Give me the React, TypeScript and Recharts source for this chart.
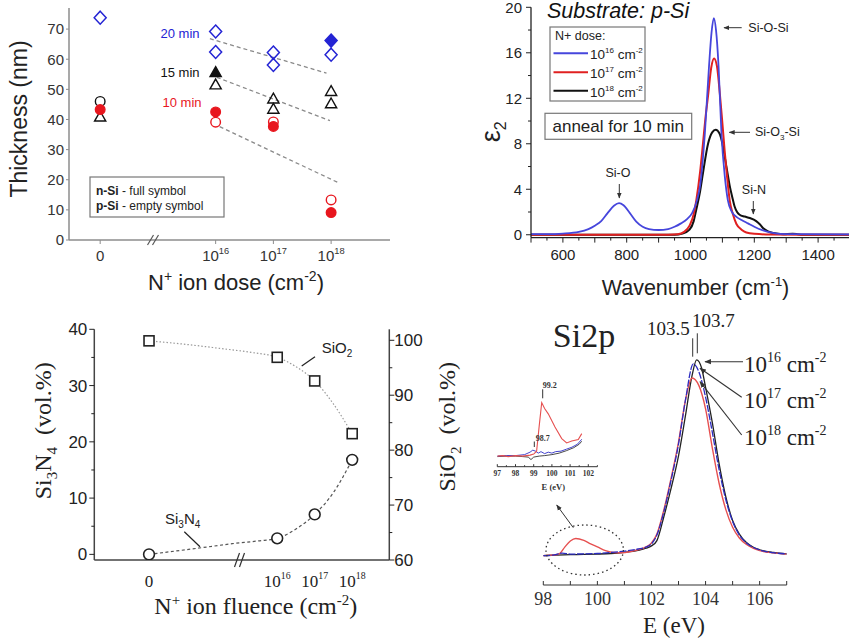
import React from "react";
import { ComposedChart, Line, Scatter, XAxis, YAxis } from "recharts";

const SANS = "'Liberation Sans', Arial, Helvetica, sans-serif";
const SERIF = "'Liberation Serif', 'Times New Roman', Times, serif";

// ---------- top left: oxide thickness vs N+ dose ----------
const doseExp = ["0", "16", "17", "18"];
const dosePos = [14, 16, 17, 18]; // place on the broken axis
const thickTicks = [0, 10, 20, 30, 40, 50, 60, 70];

// [dose index, thickness nm]
const blueOpen = [[0, 73.8], [1, 69.2], [1, 62.4], [2, 62.2], [2, 58.1], [3, 61.5]];
const blueFull = [[3, 66.2]];
const blackOpenCircle = [[0, 46]];
const blackOpenTri = [[0, 40.8], [1, 51.5], [2, 46.8], [2, 43.4], [3, 49.3], [3, 45.2]];
const blackFullTri = [[1, 55.6]];
const redFull = [[0, 43.3], [1, 42.5], [2, 37.7], [3, 9.1]];
const redOpen = [[1, 39.1], [2, 39.2], [3, 13.3]];

const trend20 = [[15.9, 66.8], [17.92, 55.4]];
const trend15 = [[16.02, 54], [17.98, 39.6]];
const trend10 = [[16.07, 37.6], [18.15, 18.8]];

// ---------- top right: eps2 spectra ----------
const wnTicks = [500, 550, 600, 650, 700, 750, 800, 850, 900, 950, 1000, 1050, 1100, 1150, 1200, 1250, 1300, 1350, 1400, 1450, 1500];
const epsTicks = [0, 2, 4, 6, 8, 10, 12, 14, 16, 18, 20];

const eps16 = [[500, 0.05], [550, 0.05], [600, 0.1], [650, 0.25], [680, 0.5], [700, 0.8], [720, 1.2], [740, 1.9], [760, 2.55], [776, 2.78], [790, 2.6], [810, 1.9], [830, 1.15], [850, 0.7], [870, 0.5], [900, 0.42], [930, 0.5], [950, 0.7], [970, 1.0], [990, 1.4], [1005, 1.9], [1020, 3.0], [1030, 4.3], [1045, 8.9], [1058, 14.8], [1066, 17.8], [1073, 19.05], [1080, 18.0], [1088, 14.8], [1097, 8.9], [1108, 5.0], [1117, 3.05], [1130, 2.0], [1145, 1.55], [1160, 1.3], [1180, 1.0], [1200, 0.7], [1225, 0.4], [1250, 0.2], [1280, 0.08], [1320, 0.05], [1500, 0.03]];
const eps17 = [[500, 0], [900, 0], [960, 0.05], [980, 0.25], [997, 0.8], [1010, 1.8], [1018, 3.0], [1030, 5.5], [1039, 8.0], [1047, 10.3], [1055, 12.2], [1065, 14.7], [1074, 15.5], [1083, 14.8], [1092, 12.4], [1100, 9.8], [1107, 7.4], [1115, 5.0], [1123, 3.0], [1133, 1.8], [1144, 0.95], [1160, 0.45], [1175, 0.2], [1200, 0.08], [1250, 0.02], [1500, 0]];
const eps18 = [[500, 0], [950, 0], [975, 0.1], [997, 0.45], [1010, 1.2], [1018, 2.2], [1030, 3.8], [1039, 5.4], [1055, 8.0], [1068, 9.0], [1079, 9.23], [1091, 8.9], [1100, 8.0], [1107, 6.9], [1115, 5.6], [1123, 4.3], [1131, 3.3], [1138, 2.5], [1146, 2.0], [1154, 1.76], [1170, 1.6], [1186, 1.47], [1206, 1.2], [1218, 0.9], [1227, 0.6], [1243, 0.3], [1259, 0.15], [1290, 0.05], [1320, 0.08], [1335, 0.05], [1350, 0], [1500, 0]];

// ---------- bottom left: phase volume fractions ----------
const fluencePos = [12.58, 16, 17, 18];
const si3n4 = [0, 2.85, 7.1, 16.8];
const sio2 = [99.9, 96.9, 92.6, 83.0];
const si3n4Fit = [[12.58, 0], [13.3, 0.6], [14.0, 1.2], [14.8, 1.9], [15.5, 2.4], [16, 2.85], [16.5, 4.5], [17, 7.1], [17.5, 11], [18, 16.8]];
const sio2Fit = [[12.58, 99.9], [13.5, 99.3], [14.5, 98.5], [15.3, 97.8], [16, 96.9], [16.5, 95.2], [17, 92.6], [17.5, 88.4], [18, 83.0]];
const leftTicks = [0, 5, 10, 15, 20, 25, 30, 35, 40];
const rightTicks = [60, 65, 70, 75, 80, 85, 90, 95, 100];

// ---------- bottom right: XPS Si2p ----------
const eTicks = [98, 99, 100, 101, 102, 103, 104, 105, 106, 107];
const xps16 = [[98.0, 0], [98.5, 0.3], [99.0, 0.5], [99.5, 0.6], [100.0, 0.8], [100.5, 1.1], [101.0, 1.7], [101.5, 2.7], [101.8, 3.8], [102.0, 5], [102.2, 7.7], [102.45, 19.5], [102.7, 33], [103.0, 51], [103.25, 71], [103.5, 92], [103.67, 100], [103.85, 96], [104.0, 86], [104.25, 68], [104.5, 47], [104.75, 30], [105.0, 18], [105.25, 11], [105.5, 6.8], [105.75, 4.4], [106.0, 3], [106.5, 1.6], [107.0, 0.9]];
const xps17 = [[98.0, 0], [98.4, 0.4], [98.7, 1.3], [99.0, 0.8], [99.5, 0.9], [100.0, 1.1], [100.5, 1.6], [101.0, 2.3], [101.5, 3.4], [101.8, 4.4], [102.0, 6], [102.2, 10.5], [102.45, 22], [102.7, 37], [103.0, 57], [103.25, 79], [103.55, 98], [103.75, 94], [104.0, 81], [104.25, 63], [104.5, 44], [104.75, 28.5], [105.0, 17.5], [105.25, 10.5], [105.5, 6.6], [105.75, 4.3], [106.0, 2.9], [106.5, 1.5], [107.0, 0.9]];
const xps18 = [[98.0, 0], [98.4, 0.3], [98.6, 1], [98.8, 4.5], [99.0, 7.5], [99.2, 8.8], [99.5, 7.8], [99.75, 6], [100.0, 4.5], [100.3, 2.6], [100.6, 1.6], [100.9, 1.5], [101.2, 2], [101.5, 3], [101.8, 4.5], [102.0, 6.5], [102.2, 11], [102.45, 23], [102.7, 38], [103.0, 58], [103.25, 79], [103.5, 90.8], [103.75, 87], [104.0, 75], [104.25, 55], [104.5, 37], [104.75, 23.5], [105.0, 14.5], [105.25, 9], [105.5, 5.8], [105.75, 3.9], [106.0, 2.6], [106.5, 1.4], [107.0, 0.8]];

// inset, zoom of the low energy part
const insetTicks = [97, 97.5, 98, 98.5, 99, 99.5, 100, 100.5, 101, 101.5, 102, 102.5];
const ins16 = [[97, -0.5], [97.5, 0], [98, 0], [98.4, -0.5], [98.7, -1], [98.85, -3.5], [99.0, -1], [99.3, 0], [99.6, 0.5], [100, 1.5], [100.4, 3], [100.8, 5.5], [101.2, 8.5], [101.5, 12], [101.64, 15]];
const ins17 = [[97, 0], [97.5, 0.5], [98, 0.5], [98.5, 1.5], [98.8, 4], [98.95, 6], [99.1, 5], [99.25, 3], [99.4, 4.5], [99.6, 2.5], [99.8, 4], [100.0, 3], [100.2, 4.5], [100.5, 5], [100.8, 7], [101.1, 9], [101.4, 12], [101.64, 17]];
const ins18 = [[97.0, 0], [97.3, 0.5], [97.6, -0.5], [98.0, 0.5], [98.4, 0], [98.8, 1], [99.0, 2], [99.16, 5], [99.3, 30], [99.44, 54], [99.6, 48], [99.8, 42.7], [100.17, 29.3], [100.54, 17.7], [100.81, 13.3], [101.09, 15.3], [101.45, 16.7], [101.64, 22.7]];

const xy = (a: number[][]) => a.map(([x, y]) => ({ x, y }));
const byDose = (a: number[][]) => a.map(([d, y]) => ({ x: dosePos[d], y }));

const BLUE = "#2424d4";
const RED = "#e8161e";
const BLK = "#111";

const supLabel = (exp: string, size: number, ratio = 0.62) => (
  <>
    10
    <tspan dy={-size * 0.45} fontSize={size * ratio}>
      {exp}
    </tspan>
  </>
);

type TickOpt = {
  len: number;
  minorLen?: number;
  inward?: boolean;
  gap: number;
  size: number;
  font: string;
  color?: string;
  stroke?: string;
  weight?: string | number;
  major?: (v: number) => boolean;
  label: (v: number) => React.ReactNode;
};

function bottomTick(o: TickOpt) {
  return (p: any) => {
    const v = p.payload.value;
    const isMajor = o.major ? o.major(v) : true;
    const len = isMajor ? o.len : o.minorLen ?? 0;
    const s = o.inward ? -1 : 1;
    const lbl = isMajor ? o.label(v) : null;
    return (
      <g>
        {len > 0 && <line x1={p.x} y1={p.y} x2={p.x} y2={p.y + s * len} stroke={o.stroke ?? "#222"} strokeWidth={1} />}
        {lbl !== null && (
          <text x={p.x} y={p.y + o.gap} textAnchor="middle" fontFamily={o.font} fontSize={o.size} fontWeight={o.weight} fill={o.color ?? "#222"}>
            {lbl}
          </text>
        )}
      </g>
    );
  };
}

function sideTick(side: "left" | "right", o: TickOpt) {
  return (p: any) => {
    const v = p.payload.value;
    const isMajor = o.major ? o.major(v) : true;
    const len = isMajor ? o.len : o.minorLen ?? 0;
    const s = (side === "left" ? -1 : 1) * (o.inward ? -1 : 1);
    const d = side === "left" ? -1 : 1;
    const lbl = isMajor ? o.label(v) : null;
    return (
      <g>
        {len > 0 && <line x1={p.x} y1={p.y} x2={p.x + s * len} y2={p.y} stroke={o.stroke ?? "#222"} strokeWidth={1} />}
        {lbl !== null && (
          <text x={p.x + d * o.gap} y={p.y + o.size * 0.36} textAnchor={side === "left" ? "end" : "start"} fontFamily={o.font} fontSize={o.size} fill={o.color ?? "#222"}>
            {lbl}
          </text>
        )}
      </g>
    );
  };
}

const diamond = (color: string, full: boolean) => (p: any) => (
  <path d={`M${p.cx},${p.cy - 6.5}L${p.cx + 6},${p.cy}L${p.cx},${p.cy + 6.5}L${p.cx - 6},${p.cy}Z`} fill={full ? color : "none"} stroke={color} strokeWidth={1.5} />
);
const triangle = (color: string, full: boolean) => (p: any) => (
  <path d={`M${p.cx},${p.cy - 5.8}L${p.cx + 5.6},${p.cy + 4}L${p.cx - 5.6},${p.cy + 4}Z`} fill={full ? color : "none"} stroke={color} strokeWidth={1.4} />
);
const circle = (color: string, full: boolean, r = 4.8) => (p: any) => (
  <circle cx={p.cx} cy={p.cy} r={r} fill={full ? color : "none"} stroke={color} strokeWidth={1.4} />
);
const square = (p: any) => <rect x={p.cx - 5} y={p.cy - 5} width={10} height={10} fill="#fff" stroke="#222" strokeWidth={1.6} />;
const ring = (p: any) => <circle cx={p.cx} cy={p.cy} r={5.4} fill="#fff" stroke="#222" strokeWidth={1.6} />;

const frameAxis = (stroke: string, w = 1.5) => ({ stroke, strokeWidth: w });

function ThicknessChart() {
  const grey = "#8c8c8c";
  return (
    <ComposedChart width={420} height={300} margin={{ top: 8, right: 30, bottom: 30, left: 0 }}>
      <XAxis
        type="number"
        dataKey="x"
        domain={[13.46, 19.02]}
        allowDataOverflow
        ticks={dosePos}
        interval={0}
        height={30}
        tickSize={0}
        tickMargin={0}
        tickLine={false}
        axisLine={frameAxis(grey)}
        tick={bottomTick({ len: 4, gap: 21, size: 15, font: SANS, color: "#333", stroke: grey, label: (v) => (v === dosePos[0] ? "0" : supLabel(doseExp[dosePos.indexOf(v)], 15)) })}
      />
      <XAxis xAxisId="top" orientation="top" type="number" domain={[13.46, 19.02]} height={0} tick={false} tickLine={false} axisLine={frameAxis(grey)} />
      <YAxis
        type="number"
        domain={[0, 77]}
        allowDataOverflow
        ticks={thickTicks}
        interval={0}
        width={69}
        tickSize={0}
        tickMargin={0}
        tickLine={false}
        axisLine={frameAxis(grey)}
        tick={sideTick("left", { len: 3, gap: 5, size: 15, font: SANS, color: "#333", stroke: grey, label: (v) => String(v) })}
      />
      <YAxis yAxisId="r" orientation="right" width={0} tick={false} tickLine={false} axisLine={frameAxis(grey)} />
      <Line data={xy(trend20)} dataKey="y" type="linear" stroke="#8a8a8a" strokeWidth={1.3} strokeDasharray="4 3" dot={false} isAnimationActive={false} />
      <Line data={xy(trend15)} dataKey="y" type="linear" stroke="#8a8a8a" strokeWidth={1.3} strokeDasharray="4 3" dot={false} isAnimationActive={false} />
      <Line data={xy(trend10)} dataKey="y" type="linear" stroke="#8a8a8a" strokeWidth={1.3} strokeDasharray="4 3" dot={false} isAnimationActive={false} />
      <Scatter data={byDose(blueOpen)} dataKey="y" shape={diamond(BLUE, false)} isAnimationActive={false} />
      <Scatter data={byDose(blueFull)} dataKey="y" shape={diamond(BLUE, true)} isAnimationActive={false} />
      <Scatter data={byDose(blackOpenCircle)} dataKey="y" shape={circle(BLK, false)} isAnimationActive={false} />
      <Scatter data={byDose(blackOpenTri)} dataKey="y" shape={triangle(BLK, false)} isAnimationActive={false} />
      <Scatter data={byDose(blackFullTri)} dataKey="y" shape={triangle(BLK, true)} isAnimationActive={false} />
      <Scatter data={byDose(redOpen)} dataKey="y" shape={circle(RED, false)} isAnimationActive={false} />
      <Scatter data={byDose(redFull)} dataKey="y" shape={circle(RED, true)} isAnimationActive={false} />
    </ComposedChart>
  );
}

function EpsChart() {
  return (
    <ComposedChart width={440} height={300} margin={{ top: 7.3, right: 10, bottom: 32.4, left: 0 }}>
      <XAxis
        type="number"
        dataKey="x"
        domain={[500, 1500]}
        allowDataOverflow
        ticks={wnTicks}
        interval={0}
        height={30}
        tickSize={0}
        tickMargin={0}
        tickLine={false}
        axisLine={frameAxis("#222", 1.3)}
        tick={bottomTick({ len: 5, minorLen: 3, gap: 22.5, size: 15, font: SANS, major: (v) => v % 100 === 0, label: (v) => (v % 200 === 0 && v >= 600 && v <= 1400 ? String(v) : null) })}
      />
      <XAxis xAxisId="top" orientation="top" type="number" domain={[500, 1500]} height={0} tick={false} tickLine={false} axisLine={frameAxis("#222", 1.3)} />
      <YAxis
        type="number"
        domain={[-0.25, 20]}
        allowDataOverflow
        ticks={epsTicks}
        interval={0}
        width={111}
        tickSize={0}
        tickMargin={0}
        tickLine={false}
        axisLine={frameAxis("#222", 1.3)}
        tick={sideTick("left", { len: 5, minorLen: 3, gap: 9, size: 15, font: SANS, major: (v) => v % 4 === 0, label: (v) => String(v) })}
      />
      <Line data={xy(eps18)} dataKey="y" type="monotone" stroke={BLK} strokeWidth={2} dot={false} isAnimationActive={false} />
      <Line data={xy(eps17)} dataKey="y" type="monotone" stroke="#e02020" strokeWidth={2} dot={false} isAnimationActive={false} />
      <Line data={xy(eps16)} dataKey="y" type="monotone" stroke="#4646dc" strokeWidth={1.8} dot={false} isAnimationActive={false} />
    </ComposedChart>
  );
}

function FractionChart() {
  const fLabel = (v: number) => (v === fluencePos[0] ? "0" : supLabel(String(v), 17, 0.58));
  return (
    <ComposedChart width={450} height={340} margin={{ top: 29.3, right: 0, bottom: 40, left: 0 }}>
      <XAxis
        type="number"
        dataKey="x"
        domain={[11.12, 18.99]}
        allowDataOverflow
        ticks={fluencePos}
        interval={0}
        height={40}
        tickSize={0}
        tickMargin={0}
        tickLine={false}
        axisLine={frameAxis("#444")}
        tick={bottomTick({ len: 0, gap: 26.5, size: 17, font: SERIF, label: fLabel })}
      />
      <XAxis xAxisId="top" orientation="top" type="number" domain={[11.12, 18.99]} height={0} tick={false} tickLine={false} axisLine={frameAxis("#444")} />
      <YAxis
        type="number"
        domain={[-1, 40]}
        allowDataOverflow
        ticks={leftTicks}
        interval={0}
        width={94.3}
        tickSize={0}
        tickMargin={0}
        tickLine={false}
        axisLine={frameAxis("#444")}
        tick={sideTick("left", { len: 5, minorLen: 3, gap: 7, size: 17, font: SANS, major: (v) => v % 10 === 0, label: (v) => String(v) })}
      />
      <YAxis
        yAxisId="r"
        orientation="right"
        type="number"
        domain={[60, 102]}
        allowDataOverflow
        ticks={rightTicks}
        interval={0}
        width={60.7}
        tickSize={0}
        tickMargin={0}
        tickLine={false}
        axisLine={frameAxis("#444")}
        tick={sideTick("right", { len: 5, minorLen: 3, gap: 5, size: 17, font: SANS, major: (v) => v % 10 === 0, label: (v) => String(v) })}
      />
      <Line data={xy(sio2Fit)} yAxisId="r" dataKey="y" type="monotone" stroke="#9a9a9a" strokeWidth={1.2} strokeDasharray="1.5 2" dot={false} isAnimationActive={false} />
      <Line data={xy(si3n4Fit)} dataKey="y" type="monotone" stroke="#555" strokeWidth={1.2} strokeDasharray="3 2.5" dot={false} isAnimationActive={false} />
      <Scatter data={fluencePos.map((x, i) => ({ x, y: sio2[i] }))} yAxisId="r" dataKey="y" shape={square} isAnimationActive={false} />
      <Scatter data={fluencePos.map((x, i) => ({ x, y: si3n4[i] }))} dataKey="y" shape={ring} isAnimationActive={false} />
    </ComposedChart>
  );
}

function XpsChart() {
  return (
    <ComposedChart width={429} height={340} margin={{ top: 40.4, right: 62.3, bottom: 25, left: 123.3 }}>
      <XAxis
        type="number"
        dataKey="x"
        domain={[98, 107]}
        allowDataOverflow
        ticks={eTicks}
        interval={0}
        height={30}
        tickSize={0}
        tickMargin={0}
        tickLine={false}
        axisLine={frameAxis("#333", 1.2)}
        tick={bottomTick({ len: 4, inward: true, gap: 20, size: 18, font: SERIF, color: "#333", stroke: "#333", label: (v) => (v % 2 === 0 ? String(v) : null) })}
      />
      <YAxis hide type="number" domain={[-15, 110]} allowDataOverflow />
      <Line data={xy(xps16)} dataKey="y" type="monotone" stroke="#222" strokeWidth={1.3} dot={false} isAnimationActive={false} />
      <Line data={xy(xps18)} dataKey="y" type="monotone" stroke="#e65050" strokeWidth={1.4} dot={false} isAnimationActive={false} />
      <Line data={xy(xps17)} dataKey="y" type="monotone" stroke="#2c2cc0" strokeWidth={1.3} strokeDasharray="7 1.5" dot={false} isAnimationActive={false} />
    </ComposedChart>
  );
}

function InsetChart() {
  return (
    <ComposedChart width={120} height={115} margin={{ top: 15, right: 12.6, bottom: 10, left: 7.3 }}>
      <XAxis
        type="number"
        dataKey="x"
        domain={[97, 102.5]}
        allowDataOverflow
        ticks={insetTicks}
        interval={0}
        height={18.3}
        tickSize={0}
        tickMargin={0}
        tickLine={false}
        axisLine={frameAxis("#333", 1)}
        tick={bottomTick({ len: 2.5, minorLen: 1.5, inward: true, gap: 9.5, size: 7.5, weight: 700, font: SERIF, color: "#333", stroke: "#333", major: (v) => Number.isInteger(v), label: (v) => String(v) })}
      />
      <YAxis hide type="number" domain={[-10.7, 61.7]} allowDataOverflow />
      <Line data={xy(ins16)} dataKey="y" type="linear" stroke="#333" strokeWidth={0.9} dot={false} isAnimationActive={false} />
      <Line data={xy(ins17)} dataKey="y" type="linear" stroke="#3030c8" strokeWidth={0.9} dot={false} isAnimationActive={false} />
      <Line data={xy(ins18)} dataKey="y" type="linear" stroke="#e65050" strokeWidth={1.1} dot={false} isAnimationActive={false} />
    </ComposedChart>
  );
}

function Overlay() {
  const ah = "url(#ah)";
  return (
    <svg width={849} height={640} style={{ position: "absolute", left: 0, top: 0, pointerEvents: "none" }}>
      <defs>
        <marker id="ah" viewBox="0 0 10 10" refX="9" refY="5" markerWidth="6" markerHeight="6" orient="auto">
          <path d="M0,1 L10,5 L0,9 Z" fill="#333" />
        </marker>
      </defs>

      {/* top left */}
      <text transform="translate(27,119) rotate(-90)" textAnchor="middle" fontFamily={SANS} fontSize={23} fill="#222">
        Thickness (nm)
      </text>
      <text x={236} y={290} textAnchor="middle" fontFamily={SANS} fontSize={22} fill="#222">
        N<tspan dy={-9} fontSize={14}>+</tspan>
        <tspan dy={9}> ion dose (cm</tspan>
        <tspan dy={-9} fontSize={14}>-2</tspan>
        <tspan dy={9}>)</tspan>
      </text>
      <text x={180} y={38} textAnchor="middle" fontFamily={SANS} fontSize={13} fill={BLUE}>20 min</text>
      <text x={180} y={76.5} textAnchor="middle" fontFamily={SANS} fontSize={13} fill={BLK}>15 min</text>
      <text x={182} y={106.5} textAnchor="middle" fontFamily={SANS} fontSize={13} fill={RED}>10 min</text>
      <rect x={90} y={177} width={134} height={40} fill="#fff" stroke="#777" strokeWidth={1.2} />
      <text x={96} y={195} fontFamily={SANS} fontSize={12} fill="#222">
        <tspan fontWeight={700}>n-Si</tspan> - full symbol
      </text>
      <text x={96} y={209.5} fontFamily={SANS} fontSize={12} fill="#222">
        <tspan fontWeight={700}>p-Si</tspan> - empty symbol
      </text>
      <line x1={147.5} y1={245} x2={153.5} y2={235} stroke="#555" strokeWidth={1.2} />
      <line x1={152.5} y1={245} x2={158.5} y2={235} stroke="#555" strokeWidth={1.2} />

      {/* top right */}
      <rect x={544} y={0} width={156} height={16} fill="#fff" />
      <text x={547} y={17.5} fontFamily={SANS} fontStyle="italic" fontSize={21.5} fill="#111">Substrate: p-Si</text>
      <rect x={550} y={27} width={95} height={74} fill="#fff" stroke="#777" strokeWidth={1.2} />
      <text x={555} y={39.5} fontFamily={SANS} fontSize={12.5} fill="#222">N+ dose:</text>
      {[
        { c: "#4646dc", e: "16", y: 53.3 },
        { c: "#e02020", e: "17", y: 72.3 },
        { c: BLK, e: "18", y: 90.7 },
      ].map((r) => (
        <g key={r.e}>
          <line x1={553.5} y1={r.y} x2={588} y2={r.y} stroke={r.c} strokeWidth={2} />
          <text x={590} y={r.y + 6} fontFamily={SANS} fontSize={13.5} fill="#222">
            10<tspan dy={-6} fontSize={8}>{r.e}</tspan>
            <tspan dy={6}> cm</tspan>
            <tspan dy={-6} fontSize={8}>-2</tspan>
          </text>
        </g>
      ))}
      <rect x={545} y={113.3} width={146.7} height={26} fill="#fff" stroke="#777" strokeWidth={1.2} />
      <text x={552.5} y={131.8} fontFamily={SANS} fontSize={17} fill="#222">anneal for 10 min</text>
      <line x1={741.7} y1={27.7} x2={724} y2={27.7} stroke="#333" strokeWidth={1} markerEnd={ah} />
      <text x={748.3} y={31.5} fontFamily={SANS} fontSize={12.5} fill="#222">Si-O-Si</text>
      <line x1={750} y1={132.3} x2={729.3} y2={132.3} stroke="#333" strokeWidth={1} markerEnd={ah} />
      <text x={755} y={136} fontFamily={SANS} fontSize={12.5} fill="#222">
        Si-O<tspan dy={4} fontSize={8}>3</tspan>
        <tspan dy={-4}>-Si</tspan>
      </text>
      <text x={618} y={177} textAnchor="middle" fontFamily={SANS} fontSize={12.5} fill="#222">Si-O</text>
      <line x1={619.3} y1={184} x2={619.3} y2={198} stroke="#333" strokeWidth={1} markerEnd={ah} />
      <text x={754} y={194} textAnchor="middle" fontFamily={SANS} fontSize={12.5} fill="#222">Si-N</text>
      <line x1={753.3} y1={201} x2={753.3} y2={214} stroke="#333" strokeWidth={1} markerEnd={ah} />
      <text transform="translate(500,131.7) rotate(-90)" textAnchor="middle" fontFamily={SANS} fontSize={27} fill="#222">
        ε<tspan dy={6} fontSize={16}>2</tspan>
      </text>
      <text x={601.7} y={295} fontFamily={SANS} fontSize={21.5} fill="#222">
        Wavenumber (cm<tspan dy={-9} fontSize={13}>-1</tspan>
        <tspan dy={9}>)</tspan>
      </text>

      {/* bottom left */}
      <text transform="translate(51,430.8) rotate(-90)" textAnchor="middle" fontFamily={SERIF} fontSize={24} fill="#222">
        Si<tspan dy={6} fontSize={15}>3</tspan>
        <tspan dy={-6}>N</tspan>
        <tspan dy={6} fontSize={15}>4</tspan>
        <tspan dy={-6}>{"\u00a0\u00a0(vol.%)"}</tspan>
      </text>
      <text transform="translate(455,426.7) rotate(-90)" textAnchor="middle" fontFamily={SERIF} fontSize={24} fill="#222">
        SiO<tspan dy={6} fontSize={15}>2</tspan>
        <tspan dy={-6}>{"\u00a0\u00a0(vol.%)"}</tspan>
      </text>
      <text x={255.8} y={614} textAnchor="middle" fontFamily={SERIF} fontSize={24} fill="#222">
        N<tspan dy={-9} fontSize={15}>+</tspan>
        <tspan dy={9}> ion fluence (cm</tspan>
        <tspan dy={-9} fontSize={15}>-2</tspan>
        <tspan dy={9}>)</tspan>
      </text>
      <text x={321.7} y={353} fontFamily={SANS} fontSize={15} fill="#222">
        SiO<tspan dy={4} fontSize={10}>2</tspan>
      </text>
      <line x1={301.7} y1={366} x2={315} y2={356.7} stroke="#222" strokeWidth={1.2} />
      <text x={165} y={524} fontFamily={SANS} fontSize={15} fill="#222">
        Si<tspan dy={4} fontSize={10}>3</tspan>
        <tspan dy={-4}>N</tspan>
        <tspan dy={4} fontSize={10}>4</tspan>
      </text>
      <line x1={184.3} y1={531.7} x2={200} y2={546.7} stroke="#222" strokeWidth={1.2} />
      <line x1={234.5} y1={567} x2={239.5} y2={553} stroke="#333" strokeWidth={1.2} />
      <line x1={239.5} y1={567} x2={244.5} y2={553} stroke="#333" strokeWidth={1.2} />

      {/* bottom right */}
      <text x={584} y={346.7} textAnchor="middle" fontFamily={SERIF} fontSize={34} fill="#222">Si2p</text>
      <text x={668.3} y={335} textAnchor="middle" fontFamily={SERIF} fontSize={19} fill="#222">103.5</text>
      <text x={713.3} y={327} textAnchor="middle" fontFamily={SERIF} fontSize={19} fill="#222">103.7</text>
      <line x1={692.7} y1={338.3} x2={692.7} y2={356.7} stroke="#333" strokeWidth={1} />
      <line x1={697.3} y1={333.3} x2={697.3} y2={353.3} stroke="#333" strokeWidth={1} />
      {[
        { e: "16", y: 372 },
        { e: "17", y: 408.3 },
        { e: "18", y: 445 },
      ].map((r) => (
        <text key={r.e} x={744} y={r.y} fontFamily={SERIF} fontSize={23} fill="#222">
          10<tspan dy={-10} fontSize={14}>{r.e}</tspan>
          <tspan dy={10}> cm</tspan>
          <tspan dy={-10} fontSize={14}>-2</tspan>
        </text>
      ))}
      <line x1={743} y1={361.7} x2={705} y2={361.7} stroke="#333" strokeWidth={1.1} markerEnd={ah} />
      <line x1={741.7} y1={397.3} x2={700} y2={368.3} stroke="#333" strokeWidth={1.1} markerEnd={ah} />
      <line x1={741.7} y1={435} x2={700} y2={381.7} stroke="#333" strokeWidth={1.1} markerEnd={ah} />
      <ellipse cx={584.7} cy={550} rx={38.7} ry={25} fill="none" stroke="#333" strokeWidth={1.3} strokeDasharray="1.5 3" />
      <line x1={573.3} y1={527.7} x2={556.7} y2={505} stroke="#333" strokeWidth={1} markerEnd={ah} />
      <text x={542.7} y={388} fontFamily={SERIF} fontSize={8} fontWeight={700} fill="#333">99.2</text>
      <line x1={542.7} y1={389.3} x2={542.7} y2={398.3} stroke="#333" strokeWidth={1} />
      <text x={535.7} y={440.7} fontFamily={SERIF} fontSize={8} fontWeight={700} fill="#333">98.7</text>
      <line x1={534.3} y1={441.5} x2={534.3} y2={447} stroke="#333" strokeWidth={1} />
      <text x={553.3} y={490} textAnchor="middle" fontFamily={SERIF} fontSize={8.5} fontWeight={700} fill="#333">E (eV)</text>
      <text x={674} y={633} textAnchor="middle" fontFamily={SERIF} fontSize={23} fill="#222">E (eV)</text>
    </svg>
  );
}

const at = (left: number, top: number): React.CSSProperties => ({ position: "absolute", left, top });

export default function App() {
  return (
    <div style={{ position: "absolute", left: 0, top: 0, width: 849, height: 640, overflow: "hidden", background: "#fff" }}>
      <div style={at(0, 0)}>
        <ThicknessChart />
      </div>
      <div style={at(420, 0)}>
        <EpsChart />
      </div>
      <div style={at(0, 300)}>
        <FractionChart />
      </div>
      <div style={at(420, 300)}>
        <XpsChart />
      </div>
      <div style={at(490, 380)}>
        <InsetChart />
      </div>
      <Overlay />
    </div>
  );
}
